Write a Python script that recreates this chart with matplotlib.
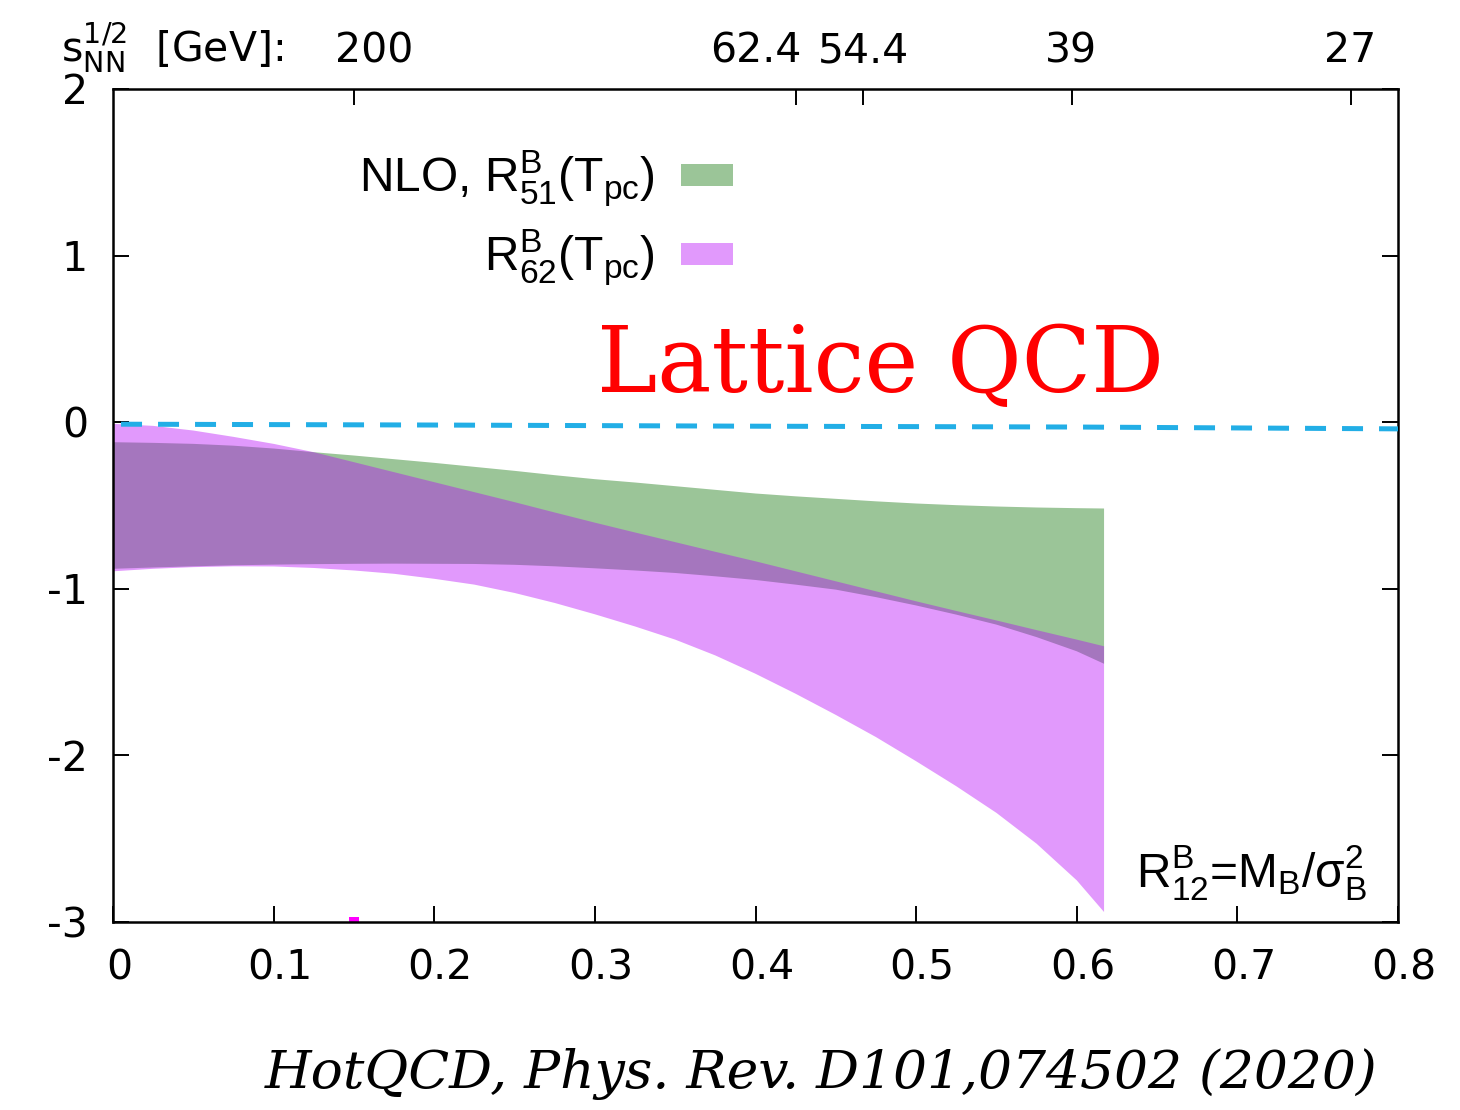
import matplotlib
matplotlib.use('Agg')
import matplotlib.pyplot as plt
from matplotlib.transforms import ScaledTranslation

# ---------------- data ----------------
mu_over_T = [0.0, 0.025, 0.05, 0.075, 0.1, 0.125, 0.15, 0.175, 0.2, 0.225, 0.25, 0.275,
             0.3, 0.325, 0.35, 0.375, 0.4, 0.425, 0.45, 0.475, 0.5, 0.525, 0.55, 0.575,
             0.6, 0.617]
r51_upper = [-0.12, -0.124, -0.13, -0.141, -0.158, -0.18, -0.2, -0.222, -0.244, -0.268,
             -0.292, -0.318, -0.342, -0.362, -0.384, -0.406, -0.428, -0.445, -0.46, -0.475,
             -0.488, -0.498, -0.506, -0.512, -0.516, -0.518]
r51_lower = [-0.88, -0.872, -0.865, -0.859, -0.855, -0.852, -0.85, -0.849, -0.85, -0.851,
             -0.856, -0.865, -0.877, -0.89, -0.905, -0.925, -0.947, -0.975, -1.005, -1.05,
             -1.10, -1.155, -1.215, -1.29, -1.375, -1.45]
r62_upper = [-0.01, -0.022, -0.05, -0.088, -0.13, -0.18, -0.24, -0.3, -0.36, -0.42,
             -0.48, -0.542, -0.603, -0.662, -0.72, -0.778, -0.835, -0.895, -0.955, -1.015,
             -1.075, -1.133, -1.19, -1.248, -1.305, -1.345]
r62_lower = [-0.895, -0.88, -0.87, -0.865, -0.866, -0.875, -0.89, -0.91, -0.94, -0.975,
             -1.025, -1.085, -1.153, -1.226, -1.305, -1.40, -1.51, -1.63, -1.757, -1.89,
             -2.035, -2.185, -2.345, -2.53, -2.75, -2.94]

zero_mu = [0.005, 0.2, 0.4, 0.6, 0.8]
zero_r12 = [-0.012, -0.017, -0.024, -0.029, -0.040]

star_mu = [0.15]
star_r12 = [-3.0]

x_ticks = [0, 0.1, 0.2, 0.3, 0.4, 0.5, 0.6, 0.7, 0.8]
x_ticklabels = ['0', '0.1', '0.2', '0.3', '0.4', '0.5', '0.6', '0.7', '0.8']
y_ticks = [-3, -2, -1, 0, 1, 2]
y_ticklabels = ['-3', '-2', '-1', '0', '1', '2']
energy_mu = [0.15, 0.425, 0.467, 0.597, 0.771]
energy_labels = ['200', '62.4', '54.4', '39', '27']
energy_label_shift_px = [20, -40, 0, -1, -1]

label_r51 = r'NLO, $\mathregular{R^B_{51}(T_{pc})}$'
label_r62 = r'$\mathregular{R^B_{62}(T_{pc})}$'

# ---------------- figure ----------------
plt.rcParams['axes.unicode_minus'] = False
plt.rcParams['font.family'] = ['DejaVu Sans']
W, H, DPI = 1460, 1110, 100
fig = plt.figure(figsize=(W / DPI, H / DPI), dpi=DPI)
L, R, T, B = 113, 1398, 89, 922
ax = fig.add_axes([L / W, 1 - B / H, (R - L) / W, (B - T) / H])

green = ax.fill_between(mu_over_T, r51_lower, r51_upper, facecolor='#9bc598',
                        edgecolor='none', linewidth=0, zorder=1, label=label_r51)
pink = ax.fill_between(mu_over_T, r62_lower, r62_upper, facecolor='#b600f8', alpha=0.4,
                       edgecolor='none', linewidth=0, zorder=1.5, label=label_r62)
ax.plot(zero_mu, zero_r12, color='#22aee6', lw=3.6, dashes=(4.2, 3.2), zorder=3)
ax.plot(star_mu, star_r12, 's', color='#ff00ff', ms=6.5, mew=0, zorder=2)

ax.set_xlim(0, 0.8)
ax.set_ylim(-3, 2)
ax.set_xticks(x_ticks)
ax.set_xticklabels(x_ticklabels)
ax.set_yticks(y_ticks)
ax.set_yticklabels(y_ticklabels)
for s in ax.spines.values():
    s.set_linewidth(1.8)
ax.tick_params(axis='both', direction='in', length=11.5, width=1.4, labelsize=29.5)
ax.tick_params(axis='x', top=False, bottom=True, pad=19.4)
ax.tick_params(axis='y', left=True, right=True, pad=18)
for lab in ax.get_xticklabels():
    lab.set_transform(lab.get_transform() + ScaledTranslation(6 / DPI, 0, fig.dpi_scale_trans))

ax2 = ax.twiny()
ax2.set_xlim(0, 0.8)
ax2.set_xticks(energy_mu)
ax2.set_xticklabels(energy_labels)
for s in ax2.spines.values():
    s.set_visible(False)
ax2.tick_params(axis='x', direction='in', length=11.5, width=1.4, labelsize=29.5,
                top=True, bottom=False, pad=12.6)
for lab, dx in zip(ax2.get_xticklabels(), energy_label_shift_px):
    lab.set_transform(lab.get_transform() + ScaledTranslation(dx / DPI, 0, fig.dpi_scale_trans))

leg = ax.legend(handles=[green, pink], loc='upper right',
                bbox_to_anchor=((733 - L) / (R - L), (B - 149) / (B - T)),
                frameon=False, markerfirst=False, borderpad=0, borderaxespad=0,
                handlelength=1.08, handleheight=0.33, handletextpad=0.54,
                labelspacing=0.40, prop={'family': 'Liberation Sans', 'size': 34.5})

fig.text(61 / W, 1 - 62 / H, r'$\mathregular{s^{1/2}_{NN}}$  [GeV]:', fontsize=29.5,
         va='baseline', ha='left')
fig.text(597 / W, 1 - 392 / H, 'Lattice QCD', color='red', family='DejaVu Serif',
         fontsize=65.4, va='baseline', ha='left')
fig.text(1367 / W, 1 - 887 / H,
         r'$\mathregular{R^B_{12}}$=$\mathregular{M_B}$/$\mathregular{σ^2_B}$',
         family='Liberation Sans', fontsize=34.5, va='baseline', ha='right')
fig.text(265 / W, 1 - 1088 / H, 'HotQCD, Phys. Rev. D101,074502 (2020)',
         family='DejaVu Serif', style='italic', fontsize=38.5, va='baseline', ha='left')

fig.savefig('out.png', dpi=DPI)
